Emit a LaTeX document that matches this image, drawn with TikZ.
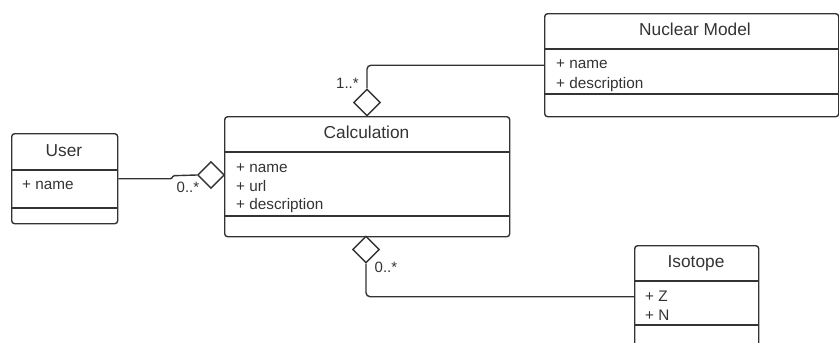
\documentclass[tikz,border=0pt]{standalone}
\usepackage{fontspec}
\setmainfont{Liberation Sans}
\usetikzlibrary{shapes.geometric}
\definecolor{linec}{HTML}{333333}
\begin{document}
\begin{tikzpicture}[x=1pt,y=-1pt,
  classbox/.style={draw=linec, line width=1.4pt, rounded corners=3pt, inner sep=0pt, anchor=north west},
  titletext/.style={font=\fontsize{17.3}{19}\selectfont, text=linec, inner sep=0pt, anchor=base},
  attrtext/.style={font=\fontsize{15.3}{17}\selectfont, text=linec, inner sep=0pt, anchor=base west},
  multtext/.style={font=\fontsize{15}{17}\selectfont, text=linec, inner sep=0pt, anchor=base west},
  aggr/.style={diamond, draw=linec, line width=1.4pt, fill=white, minimum width=27pt, minimum height=27pt, inner sep=0pt, aspect=1},
  divider/.style={draw=linec, line width=1.4pt},
  conn/.style={draw=linec, line width=1.4pt, rounded corners=4pt}]
\useasboundingbox (0,0) rectangle (839,343);
\clip (0,0) rectangle (839,343);

% User
\node[classbox, minimum width=106pt, minimum height=90pt] (user) at (11,133) {};
\node[titletext] (usert) at (64,156) {User};
\draw[divider] (11,170) -- (117,170);
\draw[divider] (11,208) -- (117,208);
\node[attrtext] (usera1) at (22,189.5) {+ name};

% Calculation
\node[classbox, minimum width=285pt, minimum height=120pt] (calc) at (224,116) {};
\node[titletext] (calct) at (366.5,138.5) {Calculation};
\draw[divider] (224,152) -- (509,152);
\draw[divider] (224,216) -- (509,216);
\node[attrtext] (calca1) at (236,172) {+ name};
\node[attrtext] (calca2) at (236,191) {+ url};
\node[attrtext] (calca3) at (236,209.5) {+ description};

% Nuclear Model
\node[classbox, minimum width=294pt, minimum height=103pt] (nuc) at (544,13) {};
\node[titletext] (nuct) at (695,35.5) {Nuclear Model};
\draw[divider] (544,49) -- (838,49);
\draw[divider] (544,94) -- (838,94);
\node[attrtext] (nuca1) at (556,68.5) {+ name};
\node[attrtext] (nuca2) at (556,88.5) {+ description};

% Isotope
\node[classbox, minimum width=124pt, minimum height=102pt] (iso) at (634,245) {};
\node[titletext] (isot) at (696,267) {Isotope};
\draw[divider] (634,281) -- (758,281);
\draw[divider] (634,325) -- (758,325);
\node[attrtext] (isoa1) at (645,301) {+ Z};
\node[attrtext] (isoa2) at (645,320) {+ N};

% aggregation diamonds
\node[aggr] (dl) at (211,175) {};
\node[aggr] (dt) at (367,102.5) {};
\node[aggr] (db) at (366,249.5) {};

% connectors
\draw[conn, rounded corners=1pt] (user.east) -- ++(53,0) -- ++(2,-3) -- (dl.west);
\draw[conn] (nuc.west) -| (dt.north);
\draw[conn] (db.south) |- (iso.west);

% multiplicities
\node[multtext] (m1) at (176.5,192) {0..*};
\node[multtext] (m2) at (336,88) {1..*};
\node[multtext] (m3) at (374.5,272.5) {0..*};
\end{tikzpicture}
\end{document}
